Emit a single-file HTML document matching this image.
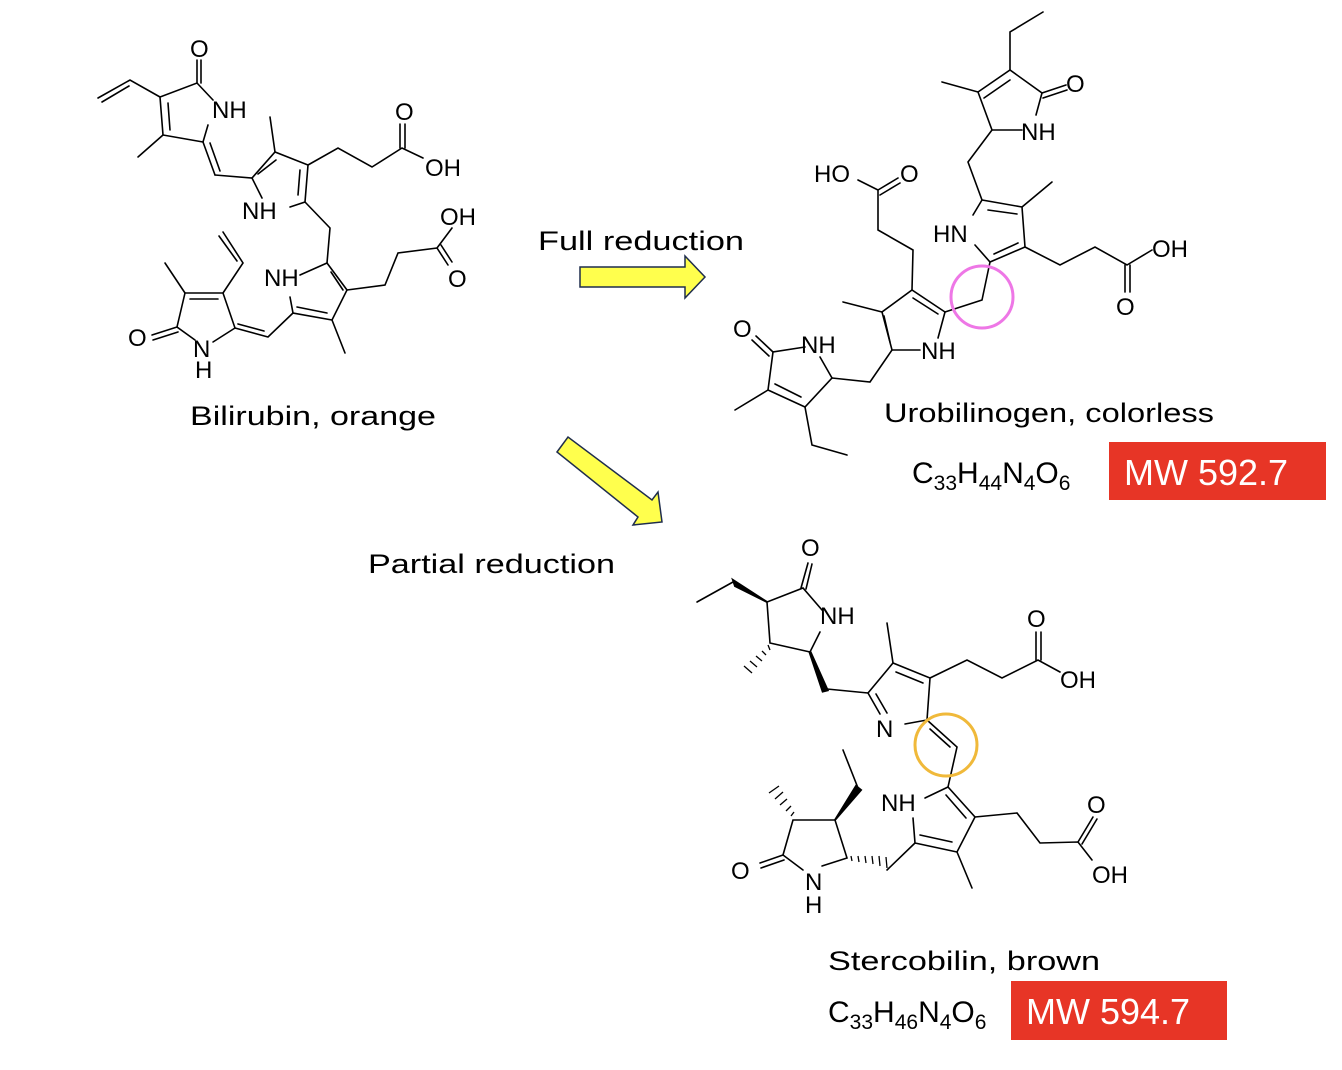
<!DOCTYPE html>
<html><head><meta charset="utf-8"><style>
html,body{margin:0;padding:0;background:#fff}
svg{display:block}
.b{stroke:#000;stroke-width:1.6;fill:none;stroke-linecap:round}
.a{font-family:"Liberation Sans",sans-serif;font-size:24px;fill:#000}
.t{font-family:"Liberation Sans",sans-serif;font-size:27px;fill:#000}
.f{font-family:"Liberation Sans",sans-serif;font-size:30px;fill:#000}
</style></head><body>
<svg width="1342" height="1070" viewBox="0 0 1342 1070" xmlns="http://www.w3.org/2000/svg">
<!-- ===== Bilirubin ===== -->
<g class="b">
<polyline points="208,125 203,142 163,135 160,97 197,83 213,100"/>
<line x1="170" y1="130" x2="168" y2="103"/>
<line x1="197" y1="83" x2="197" y2="60"/><line x1="201" y1="83" x2="201" y2="60"/>
<polyline points="160,97 130,80 98,98"/><line x1="129" y1="86" x2="102" y2="102"/>
<line x1="163" y1="135" x2="138" y2="157"/>
<line x1="203" y1="142" x2="215" y2="175"/><line x1="210" y1="143" x2="220" y2="171"/>
<polyline points="215,175 252,178 275,152 308,165 305,202 290,207"/>
<line x1="252" y1="178" x2="262" y2="198"/>
<line x1="258" y1="174" x2="276" y2="160"/><line x1="300" y1="170" x2="298" y2="195"/>
<line x1="275" y1="152" x2="270" y2="117"/>
<polyline points="308,165 338,148 372,167 402,148 423,158"/>
<line x1="400" y1="148" x2="400" y2="124"/><line x1="405" y1="148" x2="405" y2="124"/>
<polyline points="305,202 330,228 327,263"/>
<polyline points="327,263 347,290 332,320 293,313 290,297"/>
<line x1="327" y1="263" x2="300" y2="275"/>
<line x1="331" y1="272" x2="343" y2="290"/><line x1="297" y1="307" x2="327" y2="313"/>
<line x1="332" y1="320" x2="345" y2="353"/>
<polyline points="347,290 385,285 398,253 437,248 452,228"/>
<line x1="437" y1="248" x2="448" y2="265"/><line x1="441" y1="245" x2="452" y2="262"/>
<polyline points="293,313 268,337 235,328"/><line x1="264" y1="331" x2="238" y2="324"/>
<polyline points="235,328 223,293 185,293 177,327 195,340"/>
<line x1="235" y1="328" x2="213" y2="342"/>
<line x1="190" y1="299" x2="218" y2="299"/>
<line x1="177" y1="327" x2="152" y2="335"/><line x1="178" y1="332" x2="153" y2="340"/>
<polyline points="223,293 243,263 223,232"/><line x1="237" y1="261" x2="219" y2="236"/>
<line x1="185" y1="293" x2="165" y2="263"/>
</g>
<g class="a">
<text x="190" y="57">O</text>
<text x="212" y="118">NH</text>
<text x="395" y="120">O</text>
<text x="425" y="176">OH</text>
<text x="242" y="219">NH</text>
<text x="440" y="225">OH</text>
<text x="448" y="287">O</text>
<text x="264" y="286">NH</text>
<text x="128" y="346">O</text>
<text x="193" y="357">N</text>
<text x="195" y="378">H</text>
</g>
<text class="t" x="190" y="425" textLength="246" lengthAdjust="spacingAndGlyphs">Bilirubin, orange</text>

<polygon points="580,267 685,267 685,256 705,277 685,298 685,287 580,287" fill="#ffff4d" stroke="#1f2d4d" stroke-width="1.5"/>
<polygon points="557,452 568,437 652,500 658,492 662,522 633,525 638,517" fill="#ffff4d" stroke="#1f2d4d" stroke-width="1.5"/>
<text class="t" x="538" y="250" textLength="206" lengthAdjust="spacingAndGlyphs">Full reduction</text>
<text class="t" x="368" y="573" textLength="247" lengthAdjust="spacingAndGlyphs">Partial reduction</text>

<!-- ===== Urobilinogen ===== -->
<g class="b">
<polyline points="1043,12 1010,32 1010,70"/>
<polyline points="978,92 1010,70 1042,93 1036,115"/>
<line x1="984" y1="98" x2="1010" y2="80"/>
<line x1="1042" y1="93" x2="1066" y2="85"/><line x1="1043" y1="98" x2="1067" y2="90"/>
<polyline points="1022,130 992,130 978,92 942,82"/>
<polyline points="992,130 968,162 982,200"/>
<polyline points="973,215 982,200 1022,207 1025,247 990,262 975,245"/>
<line x1="988" y1="210" x2="1017" y2="214"/><line x1="1018" y1="243" x2="994" y2="254"/>
<line x1="1022" y1="207" x2="1052" y2="182"/>
<polyline points="1025,247 1060,265 1095,247 1127,265 1152,250"/>
<line x1="1125" y1="265" x2="1125" y2="292"/><line x1="1130" y1="265" x2="1130" y2="292"/>
<polyline points="990,262 982,300 945,312"/>
<polyline points="945,312 938,338"/>
<polyline points="920,350 892,350 882,312 912,290 945,312"/>
<line x1="890" y1="342" x2="884" y2="316"/><line x1="913" y1="298" x2="938" y2="314"/>
<line x1="882" y1="312" x2="843" y2="302"/>
<polyline points="912,290 913,250 878,230 878,190 858,180"/>
<line x1="878" y1="190" x2="898" y2="178"/><line x1="880" y1="195" x2="900" y2="183"/>
<polyline points="892,350 870,382 832,378"/>
<polyline points="832,378 820,357"/>
<polyline points="805,347 773,352 768,390 805,407 832,378"/>
<line x1="773" y1="352" x2="756" y2="336"/><line x1="769" y1="356" x2="752" y2="340"/>
<line x1="775" y1="384" x2="801" y2="397"/>
<line x1="768" y1="390" x2="735" y2="410"/>
<polyline points="805,407 812,445 847,455"/>
</g>
<circle cx="982" cy="297" r="31" fill="none" stroke="#ee77e6" stroke-width="3"/>
<g class="a">
<text x="1066" y="92">O</text>
<text x="1021" y="140">NH</text>
<text x="814" y="182">HO</text>
<text x="900" y="182">O</text>
<text x="933" y="242">HN</text>
<text x="1152" y="257">OH</text>
<text x="1116" y="315">O</text>
<text x="921" y="359">NH</text>
<text x="733" y="337">O</text>
<text x="801" y="353">NH</text>
</g>
<text class="t" x="884" y="422" textLength="330" lengthAdjust="spacingAndGlyphs">Urobilinogen, colorless</text>
<text class="f" x="912" y="483">C<tspan font-size="21" dy="7">33</tspan><tspan dy="-7">H</tspan><tspan font-size="21" dy="7">44</tspan><tspan dy="-7">N</tspan><tspan font-size="21" dy="7">4</tspan><tspan dy="-7">O</tspan><tspan font-size="21" dy="7">6</tspan></text>
<rect x="1109" y="442" width="217" height="58" fill="#e73526"/>
<text x="1124" y="485" font-family="Liberation Sans,sans-serif" font-size="36" fill="#fff">MW 592.7</text>

<!-- ===== Stercobilin ===== -->
<g class="b">
<polyline points="822,610 803,588 767,602 770,643 810,652 820,632"/>
<line x1="801" y1="588" x2="808" y2="563"/><line x1="806" y1="589" x2="812" y2="564"/>
<line x1="733" y1="582" x2="697" y2="602"/>
<polygon points="767,602 733,580 735,586" fill="#000" stroke="#000" stroke-width="2"/>
<polygon points="810,652 827,690 823,691" fill="#000" stroke="#000" stroke-width="3"/>
<line x1="827" y1="689" x2="868" y2="693"/>
<polyline points="868,693 893,663 930,678 927,720 905,724"/>
<line x1="868" y1="693" x2="880" y2="714"/><line x1="876" y1="694" x2="887" y2="713"/>
<line x1="896" y1="672" x2="923" y2="683"/>
<line x1="893" y1="663" x2="887" y2="623"/>
<polyline points="930,678 967,660 1002,678 1038,660 1060,672"/>
<line x1="1036" y1="660" x2="1036" y2="632"/><line x1="1041" y1="660" x2="1041" y2="632"/>
<polyline points="927,720 957,747 948,787"/><line x1="930" y1="729" x2="950" y2="747"/>
<polyline points="925,798 948,787 975,817 957,852 915,843 913,818"/>
<line x1="946" y1="795" x2="966" y2="818"/><line x1="920" y1="835" x2="952" y2="842"/>
<line x1="957" y1="852" x2="972" y2="888"/>
<polyline points="975,817 1017,813 1040,843 1078,842 1092,860"/>
<line x1="1078" y1="842" x2="1093" y2="817"/><line x1="1082" y1="844" x2="1097" y2="819"/>
<line x1="915" y1="843" x2="887" y2="870"/>
<polyline points="822,866 847,858 835,820 793,820 783,855 803,870"/>
<line x1="783" y1="855" x2="760" y2="863"/><line x1="784" y1="860" x2="761" y2="868"/>
<polygon points="835,820 856,786 861,790" fill="#000" stroke="#000" stroke-width="2"/>
<line x1="858" y1="788" x2="843" y2="750"/>
</g>
<g stroke="#000" stroke-width="1.3">
<line x1="768" y1="645" x2="770" y2="650"/><line x1="762" y1="651" x2="766" y2="655"/><line x1="756" y1="656" x2="762" y2="661"/><line x1="750" y1="661" x2="757" y2="667"/><line x1="744" y1="666" x2="752" y2="673"/>
<line x1="791" y1="816" x2="794" y2="812"/><line x1="786" y1="811" x2="791" y2="806"/><line x1="780" y1="805" x2="787" y2="799"/><line x1="775" y1="799" x2="783" y2="792"/><line x1="769" y1="793" x2="779" y2="786"/>
<line x1="851" y1="856" x2="852" y2="861"/><line x1="858" y1="856" x2="859" y2="862"/><line x1="865" y1="856" x2="866" y2="863"/><line x1="872" y1="856" x2="873" y2="864"/><line x1="879" y1="856" x2="880" y2="866"/><line x1="886" y1="857" x2="887" y2="868"/>
</g>
<circle cx="946" cy="745" r="31" fill="none" stroke="#f0b93a" stroke-width="3"/>
<g class="a">
<text x="801" y="556">O</text>
<text x="820" y="624">NH</text>
<text x="1027" y="627">O</text>
<text x="1060" y="688">OH</text>
<text x="876" y="737">N</text>
<text x="881" y="811">NH</text>
<text x="1087" y="813">O</text>
<text x="1092" y="883">OH</text>
<text x="731" y="879">O</text>
<text x="805" y="890">N</text>
<text x="805" y="913">H</text>
</g>
<text class="t" x="828" y="970" textLength="272" lengthAdjust="spacingAndGlyphs">Stercobilin, brown</text>
<text class="f" x="828" y="1022">C<tspan font-size="21" dy="7">33</tspan><tspan dy="-7">H</tspan><tspan font-size="21" dy="7">46</tspan><tspan dy="-7">N</tspan><tspan font-size="21" dy="7">4</tspan><tspan dy="-7">O</tspan><tspan font-size="21" dy="7">6</tspan></text>
<rect x="1011" y="981" width="216" height="59" fill="#e73526"/>
<text x="1026" y="1024" font-family="Liberation Sans,sans-serif" font-size="36" fill="#fff">MW 594.7</text>
</svg>
</body></html>
